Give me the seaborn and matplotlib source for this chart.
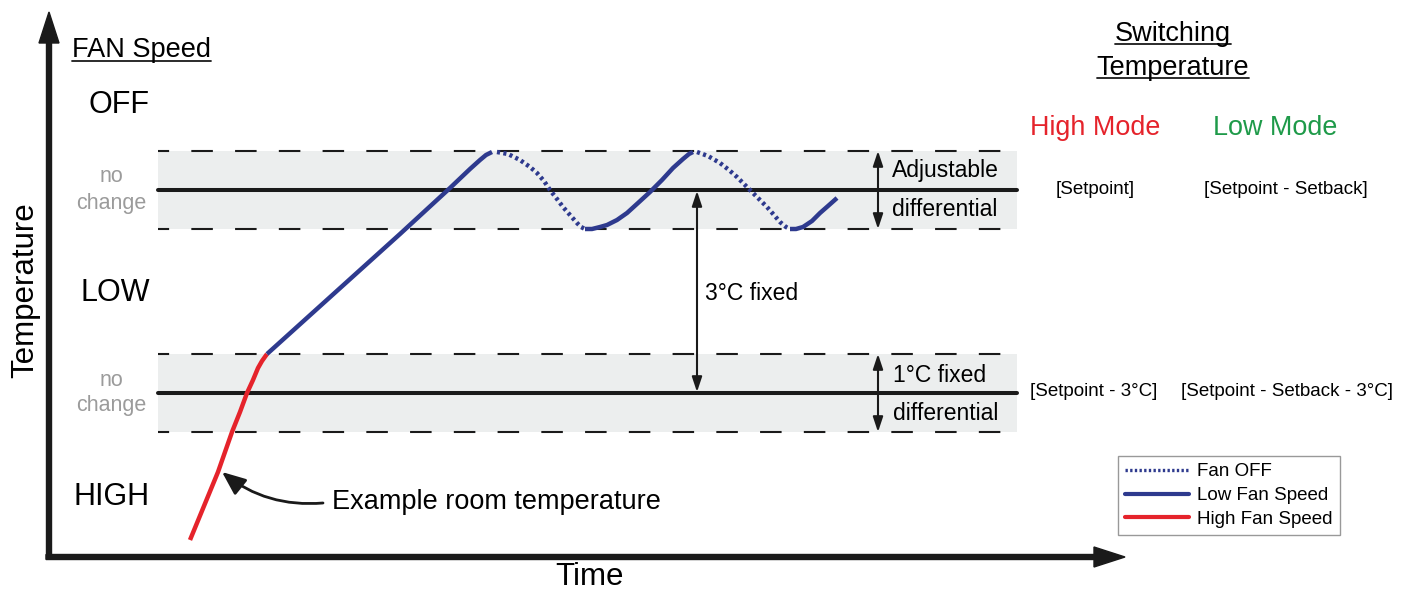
import numpy as np
import pandas as pd
import matplotlib.pyplot as plt
import seaborn as sns
from matplotlib.lines import Line2D

sns.set_theme(style="white")
plt.rcParams["font.family"] = ["Liberation Sans", "DejaVu Sans"]
plt.rcParams["text.color"] = "black"

# diagram units: time to the right, temperature level measured downward (screen style)
band_left, band_right = 158, 1017
setpoint = 190            # upper switching line
setpoint_low = 393        # setpoint - 3 C
half_diff = 39            # half of the differential bands

# room temperature trace, split by fan state
high_t = [190, 204, 218, 225, 232, 240, 247, 253, 258, 262, 267]
high_T = [540, 506, 472, 452, 432, 412, 393, 380, 368, 361, 354]
low1_t = [267, 400, 450, 470, 480, 486, 492]
low1_T = [354, 234, 188, 169, 160, 155, 152]
off1_t = [497, 508, 520, 530, 537, 544, 550, 557, 563, 570, 577, 581, 585]
off1_T = [152, 154, 160, 167, 173, 181, 190, 199, 207, 215, 223, 227, 229]
low2_t = [585, 592, 600, 607, 617, 627, 638, 650, 662, 673, 683, 689, 693]
low2_T = [229, 229, 227, 225, 220, 213, 203, 192, 180, 168, 159, 154, 152]
off2_t = [697, 708, 720, 729, 737, 744, 750, 758, 767, 774, 780, 786, 790]
off2_T = [152, 156, 163, 170, 177, 184, 190, 198, 207, 215, 222, 227, 229]
low3_t = [790, 796, 803, 812, 820, 828, 837]
low3_T = [229, 229, 227, 221, 213, 206, 198]

blue = "#2e3a8e"
red = "#e5232b"
green = "#1e9a49"
band_col = "#eceeee"

fig = plt.figure(figsize=(14.13, 5.91), dpi=100)
ax = fig.add_axes([0, 0, 1, 1])

# grey differential bands, dashed edges and solid switching lines
lw_dash = 1.5
for c in [setpoint, setpoint_low]:
    ax.fill_between([band_left, band_right], c - half_diff, c + half_diff,
                    color=band_col, lw=0, zorder=0)
    for e in [c - half_diff, c + half_diff]:
        ax.plot([band_left, band_right], [e, e], color="k", lw=lw_dash,
                linestyle=(7.5 / lw_dash, (15.5 / lw_dash, 16 / lw_dash)), zorder=1)
    ax.plot([band_left, band_right], [c, c], color="k", lw=2.9, zorder=1)

# temperature trace
segs = [(high_t, high_T, red, "-"), (low1_t, low1_T, blue, "-"),
        (off1_t, off1_T, blue, "dot"), (low2_t, low2_T, blue, "-"),
        (off2_t, off2_T, blue, "dot"), (low3_t, low3_T, blue, "-")]
for t, T, col, st in segs:
    df = pd.DataFrame({"time": t, "temp": T})
    sns.lineplot(data=df, x="time", y="temp", ax=ax, color=col, lw=3.2,
                 sort=False, estimator=None, zorder=3)
    ln = ax.lines[-1]
    ln.set_solid_capstyle("butt")
    ln.set_solid_joinstyle("round")
    if st == "dot":
        ln.set_linestyle((0, (0.7, 0.75)))
ax.set_xlabel("")
ax.set_ylabel("")
ax.set_xlim(0, 1413)
ax.set_ylim(591, 0)
ax.axis("off")

# axes arrows
ax.arrow(49, 559, 0, -547, width=5, head_width=20, head_length=31,
         length_includes_head=True, color="k", zorder=4)
ax.arrow(46, 557, 1079, 0, width=5, head_width=20, head_length=31,
         length_includes_head=True, color="k", zorder=4)

# double headed dimension arrows
dbl = dict(arrowstyle="<|-|>,head_length=0.9,head_width=0.3", color="k",
           lw=1.5, shrinkA=0, shrinkB=0, mutation_scale=10)
ax.annotate("", xy=(878, setpoint - half_diff), xytext=(878, setpoint + half_diff),
            arrowprops=dbl, zorder=5)
ax.annotate("", xy=(878, setpoint_low - half_diff), xytext=(878, setpoint_low + half_diff),
            arrowprops=dbl, zorder=5)
ax.annotate("", xy=(697, setpoint + 1), xytext=(697, setpoint_low - 1),
            arrowprops=dbl, zorder=5)

# curved pointer to the trace
ax.annotate("", xy=(222, 472), xytext=(323, 503),
            arrowprops=dict(arrowstyle="-|>,head_length=1.2,head_width=0.5",
                            color="k", lw=2, shrinkA=0, shrinkB=0,
                            mutation_scale=12, connectionstyle="arc3,rad=-0.2"))

# texts
ax.text(25, 290, "Temperature", rotation=90, ha="center", va="center", fontsize=22.5)
ax.text(590, 577, "Time", ha="center", va="center", fontsize=22.5)
t_fan = ax.text(72, 57, "FAN Speed", ha="left", va="baseline", fontsize=19.5)
for s, y in [("OFF", 113), ("LOW", 301), ("HIGH", 505)]:
    ax.text(150, y, s, ha="right", va="baseline", fontsize=22)
for y in [setpoint, setpoint_low]:
    ax.text(111, y - 13, "no", ha="center", va="center", fontsize=15.5, color="#9b9b9b")
    ax.text(111, y + 13, "change", ha="center", va="center", fontsize=15.5, color="#9b9b9b")

ax.text(892, 170, "Adjustable", ha="left", va="center", fontsize=16.5)
ax.text(892, 209, "differential", ha="left", va="center", fontsize=16.5)
ax.text(893, 376, "1°C fixed", ha="left", va="center", fontsize=16.5)
ax.text(893, 414, "differential", ha="left", va="center", fontsize=16.5)
ax.text(705, 293, "3°C fixed", ha="left", va="center", fontsize=16.5)
ax.text(332, 509, "Example room temperature", ha="left", va="baseline", fontsize=19.5)

t_sw = ax.text(1173, 41, "Switching", ha="center", va="baseline", fontsize=19.5)
t_tp = ax.text(1173, 75, "Temperature", ha="center", va="baseline", fontsize=19.5)
ax.text(1030, 135, "High Mode", ha="left", va="baseline", fontsize=19.4, color=red)
ax.text(1213, 135, "Low Mode", ha="left", va="baseline", fontsize=19.4, color=green)
ax.text(1095, 190, "[Setpoint]", ha="center", va="center", fontsize=13.5)
ax.text(1286, 190, "[Setpoint - Setback]", ha="center", va="center", fontsize=13.5)
ax.text(1094, 392, "[Setpoint - 3°C]", ha="center", va="center", fontsize=13.5)
ax.text(1287, 392, "[Setpoint - Setback - 3°C]", ha="center", va="center", fontsize=13.5)

# underline the headings
fig.canvas.draw()
rend = fig.canvas.get_renderer()
inv = ax.transData.inverted()
for txt, gap in [(t_fan, 4), (t_sw, 3), (t_tp, 3)]:
    bb = txt.get_window_extent(rend)
    x0 = inv.transform((bb.x0, bb.y0))[0]
    x1 = inv.transform((bb.x1, bb.y0))[0]
    yb = txt.get_position()[1] + gap
    ax.plot([x0, x1], [yb, yb], color="k", lw=1.3)

# legend
handles = [Line2D([], [], color=blue, lw=2.4, linestyle=(0, (0.7, 0.7))),
           Line2D([], [], color=blue, lw=3),
           Line2D([], [], color=red, lw=3)]
leg = ax.legend(handles, ["Fan OFF", "Low Fan Speed", "High Fan Speed"],
                loc="upper left", bbox_to_anchor=(1118 / 1413, 1 - 456 / 591),
                bbox_transform=fig.transFigure, borderaxespad=0, fontsize=13.5,
                frameon=True, fancybox=False, edgecolor="#808080",
                handlelength=3.4, handletextpad=0.45, labelspacing=0.36,
                borderpad=0.38)
leg.get_frame().set_linewidth(1)
for tx in leg.get_texts():
    tx.set_color("black")

fig.savefig("out.png", dpi=100)
